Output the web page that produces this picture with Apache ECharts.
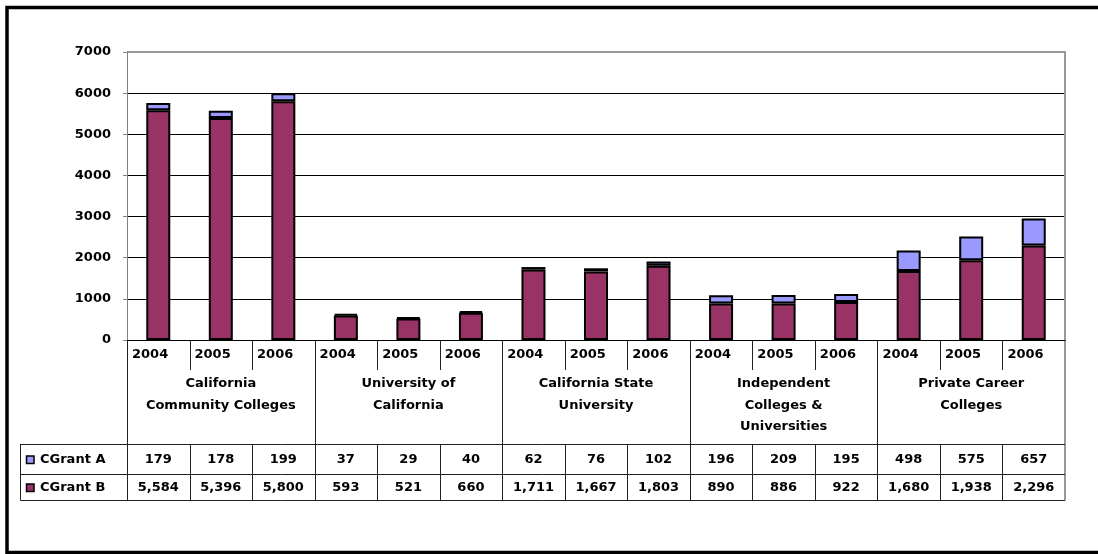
<!DOCTYPE html>
<html><head><meta charset="utf-8">
<script src="https://cdn.jsdelivr.net/npm/echarts@6/dist/echarts.min.js"></script>
<style>html,body{margin:0;padding:0;background:#fff}#c{width:1098px;height:554px}</style>
</head><body><div id="c"></div>
<script>
const years = ['2004','2005','2006','2004','2005','2006','2004','2005','2006','2004','2005','2006','2004','2005','2006'];
const groups = ['California\nCommunity Colleges','University of\nCalifornia','California State\nUniversity','Independent\nColleges &\nUniversities','Private Career\nColleges'];
const groupSize = 3;
const grantA = [179,178,199,37,29,40,62,76,102,196,209,195,498,575,657];
const grantB = [5584,5396,5800,593,521,660,1711,1667,1803,890,886,922,1680,1938,2296];
const colors = {'CGrant A':'#9999FF','CGrant B':'#993366'};
const yMax = 7000, yStep = 1000;

const FONT = 'DejaVu Sans';
const GL = 127, GT = 52, GR = 1065, GB = 340;
const chart = echarts.init(document.getElementById('c'));
chart.setOption({
  animation:false,
  grid:{left:GL, top:GT, width:GR-GL, height:GB-GT, containLabel:false},
  xAxis:{type:'category', data:years, axisLine:{lineStyle:{color:'#000',width:1}}, axisTick:{show:false}, axisLabel:{show:false}},
  yAxis:{type:'value', min:0, max:yMax, interval:yStep,
    axisLine:{show:true, lineStyle:{color:'#808080',width:1}},
    axisTick:{show:true, length:4, lineStyle:{color:'#808080'}},
    axisLabel:{fontFamily:FONT, fontWeight:'bold', fontSize:13, color:'#000', margin:16, formatter:v=>String(v)},
    splitLine:{lineStyle:{color:['#000','#000','#000','#000','#000','#000','#000','#fff'], width:1}}},
  series:[
    {name:'CGrant B', type:'bar', stack:'t', data:grantB, barWidth:24, itemStyle:{color:colors['CGrant B'], borderColor:'#000', borderWidth:2}},
    {name:'CGrant A', type:'bar', stack:'t', data:grantA, barWidth:24, itemStyle:{color:colors['CGrant A'], borderColor:'#000', borderWidth:2}}
  ]
});

const n = years.length;
const toX = i => { const p = chart.convertToPixel({xAxisIndex:0}, i); return Array.isArray(p) ? p[0] : p; };
const cx = years.map((_,i)=>toX(i));
const bounds = [GL];
for (let i=1;i<n;i++) bounds.push((cx[i-1]+cx[i])/2);
bounds.push(GR);
const TL = 20, yearBot = 370, rowA = 444, rowB = 474, tBot = 500;
const LC = '#222';
const g = [];
const line = (x1,y1,x2,y2,c,w)=>g.push({type:'line', shape:{x1,y1,x2,y2}, style:{stroke:c||LC, lineWidth:w||1}, silent:true});
const txt = (x,y,t,align)=>g.push({type:'text', x, y, style:{text:t, fill:'#000', font:'bold 13px "'+FONT+'"', align:align||'center', verticalAlign:'middle'}, silent:true});

for (let i=0;i<n;i++) {
  txt(bounds[i]+5, 355, years[i], 'left');
  if (i>0 && i%groupSize!==0) line(Math.round(bounds[i])+0.5, GB, Math.round(bounds[i])+0.5, yearBot);
}
for (let k=0;k<groups.length;k++) {
  const x0 = bounds[k*groupSize], x1 = bounds[(k+1)*groupSize];
  groups[k].split('\n').forEach((l,j)=>txt((x0+x1)/2, 384+j*21.5, l, 'center'));
}
for (let k=0;k<groups.length;k++) {
  const x = Math.round(bounds[k*groupSize])+0.5;
  line(x, GB, x, tBot, LC);
}
// plot area top and right border (gray)
line(GL, GT, GR+1, GT, '#999', 2);
line(GR, GT, GR, tBot+0.5, '#999', 2);
line(TL+0.5, rowA+0.5, GR, rowA+0.5);
line(TL+0.5, rowB+0.5, GR, rowB+0.5);
line(TL+0.5, tBot+0.5, GR, tBot+0.5);
line(TL+0.5, rowA, TL+0.5, tBot+0.5);
for (let i=1;i<n;i++) line(Math.round(bounds[i])+0.5, rowA, Math.round(bounds[i])+0.5, tBot);
const rows = [{name:'CGrant A', vals:grantA, y0:rowA, y1:rowB},{name:'CGrant B', vals:grantB, y0:rowB, y1:tBot}];
rows.forEach(r=>{
  const ym = (r.y0+r.y1)/2 + 1;
  g.push({type:'rect', shape:{x:26.5, y:ym-4, width:7.5, height:7.5}, style:{fill:colors[r.name], stroke:'#000', lineWidth:1.5}, silent:true});
  txt(40, ym, r.name, 'left');
  r.vals.forEach((v,i)=>txt((bounds[i]+bounds[i+1])/2, ym, v.toLocaleString('en-US'), 'center'));
});
g.push({type:'rect', shape:{x:7, y:7.5, width:1100, height:545}, style:{fill:'none', stroke:'#000', lineWidth:3.5}, silent:true});
chart.setOption({graphic:g});
</script></body></html>
